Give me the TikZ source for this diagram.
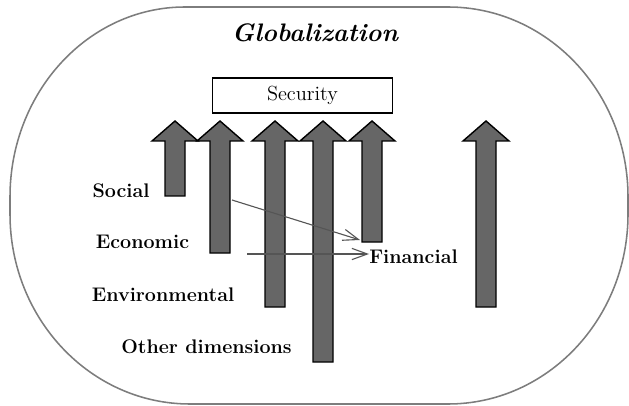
\documentclass[tikz,border=0pt]{standalone}
\usetikzlibrary{positioning,arrows.meta}

\definecolor{shaftgray}{RGB}{102,102,102}
\definecolor{rimgray}{RGB}{125,125,125}
\definecolor{linkgray}{RGB}{85,85,85}

% one upward block arrow: #1 = centre x, #2 = foot y, #3 = name of its foot
\newcommand{\dimarrow}[3]{%
  \draw[dimbar] (#1-10,#2) -- (#1-10,141) -- (#1-23,141) -- (#1,121)
    -- (#1+23,141) -- (#1+10,141) -- (#1+10,#2) -- cycle;
  \coordinate (#3) at (#1,#2);}

\begin{document}
\begin{tikzpicture}[x=0.025cm,y=-0.025cm,
    dimbar/.style={draw=black,line width=1pt,fill=shaftgray,line join=miter},
    dimlabel/.style={font=\fontsize{14}{16}\selectfont\bfseries,inner sep=0pt},
    link/.style={draw=linkgray,line width=0.8pt,-{Straight Barb[length=11pt,width=8pt]}}]
  \useasboundingbox (0,0) rectangle (629,406);

  % outer globalization boundary
  \draw[rimgray,line width=1.1pt] (185,7) -- (448,7)
    arc[start angle=-90,end angle=0,x radius=180,y radius=190] -- (628,214)
    arc[start angle=0,end angle=90,x radius=180,y radius=190] -- (190,404)
    arc[start angle=90,end angle=180,x radius=180,y radius=190] -- (10,197)
    arc[start angle=180,end angle=270,x radius=175,y radius=190] -- cycle;

  \node [font=\fontsize{18}{21}\selectfont\bfseries\itshape] (glob) at (315,33) {Globalization};
  \node [draw,line width=1pt,minimum width=4.5cm,minimum height=0.875cm,
         font=\fontsize{14.5}{16}\selectfont] (sec) at (302.5,95.5) {Security};

  % the dimensions pushing up to security
  \foreach \x/\y/\n in {175/196/soc,220/253/eco,275/307/env,323/362/oth,372/242/fin,486/307/rest}
    \dimarrow{\x}{\y}{\n};

  \node [dimlabel] (social) at (121,191) {Social};
  \node [dimlabel] (economic) at (142.5,242) {Economic};
  \node [dimlabel] (environmental) at (163,295) {Environmental};
  \node [dimlabel] (other) at (206.5,347) {Other dimensions};
  \node [dimlabel,anchor=west] (financial) at (369,257) {Financial};

  \coordinate (ecoout) at (232,200);
  \coordinate (ecomid) at (247,254);
  \coordinate (finfoot) at (360,240);
  \draw [link] (ecoout) -- (finfoot);
  \draw [link] (ecomid) -- (ecomid -| financial.west);
\end{tikzpicture}
\end{document}
